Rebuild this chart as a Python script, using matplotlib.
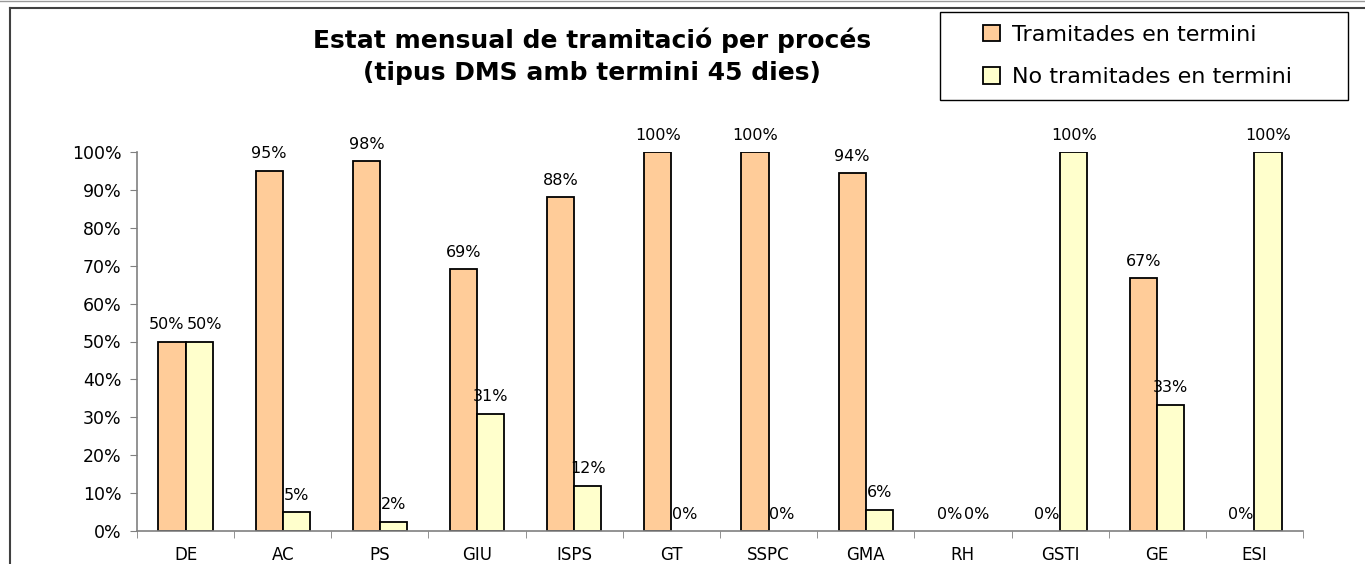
import matplotlib.pyplot as plt
import numpy as np
from matplotlib.lines import Line2D
from matplotlib.patches import Rectangle

plt.rcParams['font.family'] = ['DejaVu Sans']

categories = ["DE", "AC", "PS", "GIU", "ISPS", "GT", "SSPC", "GMA", "RH", "GSTI", "GE", "ESI"]
in_time = [50, 95, 97.6, 69, 88, 100, 100, 94.4, 0, 0, 66.7, 0]
not_in_time = [50, 5, 2.4, 31, 12, 0, 0, 5.6, 0, 100, 33.3, 100]
series_names = ["Tramitades en termini", "No tramitades en termini"]

W, H = 1365, 564
fig = plt.figure(figsize=(W / 100, H / 100), dpi=100)
ax = fig.add_axes([137 / W, 1 - 531 / H, (1303 - 137) / W, (531 - 152) / H])

x = np.arange(len(categories))
bw = 0.28
b1 = ax.bar(x - bw / 2, in_time, bw, color="#FFCC99", edgecolor="black",
            linewidth=[1.3 if v > 0 else 0 for v in in_time], label=series_names[0])
b2 = ax.bar(x + bw / 2, not_in_time, bw, color="#FFFFCC", edgecolor="black",
            linewidth=[1.3 if v > 0 else 0 for v in not_in_time], label=series_names[1])

for i in range(len(categories)):
    v1, v2 = in_time[i], not_in_time[i]
    close = abs(v1 - v2) < 8 and v1 > 0
    if close:
        # labels would collide: push them apart around the group centre
        ax.annotate(f"{v1:.0f}%", (x[i], v1 + 2.5), xytext=(-1, 0), textcoords="offset points",
                    ha="right", va="bottom", fontsize=11.5)
        ax.annotate(f"{v2:.0f}%", (x[i], v2 + 2.5), xytext=(1, 0), textcoords="offset points",
                    ha="left", va="bottom", fontsize=11.5)
    else:
        ax.text(x[i] - bw / 2, v1 + 2.5, f"{v1:.0f}%", ha="center", va="bottom", fontsize=11.5)
        ax.text(x[i] + bw / 2, v2 + 2.5, f"{v2:.0f}%", ha="center", va="bottom", fontsize=11.5)

ax.set_xlim(-0.5, len(categories) - 0.5)
ax.set_ylim(0, 100)
ax.set_yticks(range(0, 101, 10))
ax.set_yticklabels([f"{t}%" for t in range(0, 101, 10)], fontsize=12.5)
ax.set_xticks(x)
ax.set_xticklabels(categories, fontsize=12)
ax.set_xticks(np.arange(-0.5, len(categories), 1), minor=True)
ax.tick_params(axis="x", which="major", length=0, pad=11)
ax.tick_params(axis="x", which="minor", length=5, color="#808080", direction="out")
ax.tick_params(axis="y", length=5, color="#808080", pad=6)
for s in ["top", "right"]:
    ax.spines[s].set_visible(False)
for s in ["left", "bottom"]:
    ax.spines[s].set_color("#808080")
    ax.spines[s].set_linewidth(1.2)

fig.text(592 / W, 1 - 56 / H, "Estat mensual de tramitació per procés\n(tipus DMS amb termini 45 dies)",
         ha="center", va="center", fontsize=18, fontweight="bold", linespacing=1.4)

# legend box drawn separately so its padding matches the original
fig.add_artist(Rectangle((940 / W, 1 - 100 / H), (1348 - 940) / W, 88 / H,
                         transform=fig.transFigure, facecolor="white", edgecolor="black",
                         linewidth=1.0))
leg = fig.legend(handles=[b1, b2], loc="upper left",
                 bbox_to_anchor=(983 / W, 1 - 25 / H), bbox_transform=fig.transFigure,
                 fontsize=16, frameon=False,
                 handlelength=0.75, handleheight=0.75, labelspacing=1.0,
                 borderpad=0, borderaxespad=0, handletextpad=0.55)
for h in leg.legend_handles:
    h.set_linewidth(1.3)

# outer frame lines
fig.add_artist(Line2D([10 / W, 10 / W], [0, 1 - 8 / H], color="#404040", linewidth=1.5,
                      transform=fig.transFigure))
fig.add_artist(Line2D([10 / W, 1], [1 - 8 / H, 1 - 8 / H], color="#404040", linewidth=1.5,
                      transform=fig.transFigure))
fig.add_artist(Line2D([0, 1], [1 - 1 / H, 1 - 1 / H], color="#999999", linewidth=1.0,
                      transform=fig.transFigure))

fig.savefig("out.png", dpi=100)
